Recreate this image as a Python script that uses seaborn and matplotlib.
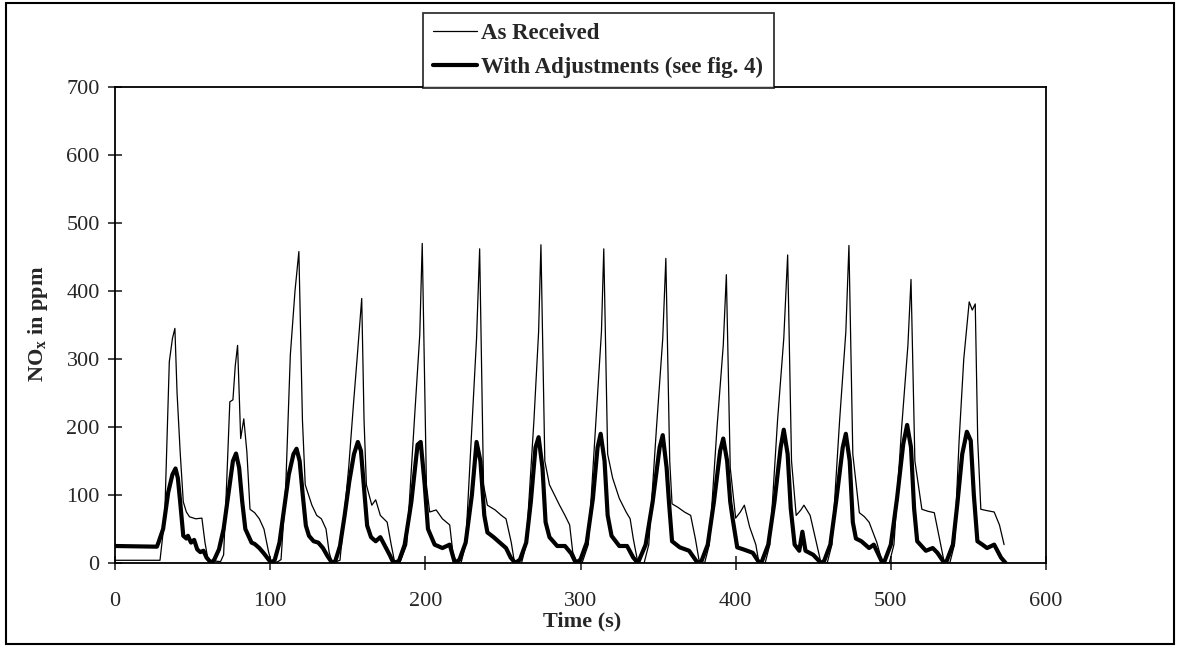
import numpy as np
import pandas as pd
import matplotlib
matplotlib.use("Agg")
import matplotlib.pyplot as plt
import seaborn as sns
from matplotlib.patches import Rectangle

# ---------------- data ----------------
t_received = [0, 29, 32, 35, 37, 38.6, 40, 42, 44, 46, 48, 52, 56, 58, 60, 68,
              70, 72, 74, 76, 77.5, 79, 81, 83, 85, 87, 90, 93, 96, 99, 101, 105,
              107, 110, 113, 116, 118.5, 120.8, 122.6, 126.9, 130, 133, 136, 138, 140, 145,
              150.6, 153.8, 156, 159, 160.5, 162, 165.5, 168, 171, 175.4, 178, 180, 183.5,
              188, 193, 196.4, 198, 200.7, 202.8, 207, 211, 215.7, 217.7, 220, 223,
              226, 230, 233, 235, 237.5, 240, 245, 249, 252, 255.4, 257.5, 262,
              265, 270, 273, 274.5, 277, 280, 286.5, 290, 293, 295, 298, 301,
              305, 310, 313.5, 315, 317.5, 320.7, 325, 329.4, 332, 334, 337, 341,
              344, 349, 353, 355, 357.5, 359, 362.7, 367, 371, 374, 376.7, 380,
              383, 388, 392, 394, 396.5, 400, 403, 405.6, 409, 413, 415, 419,
              422, 427, 431, 433.5, 436, 439, 442, 444, 448, 452, 455, 459,
              462, 467, 471, 473, 475.5, 479.7, 483, 486, 491, 494.6, 499,
              502, 507, 511, 513, 515.5, 520, 524, 528, 531, 534.5, 538,
              541, 544, 547, 550.5, 552.5, 554.4, 556, 558, 562, 566.6, 570, 573]
nox_received = [4, 4, 65, 296, 330, 345, 250, 163, 90, 75, 68, 65, 66, 30, 4, 2,
                12, 120, 237, 240, 290, 320, 183, 212, 163, 79, 74, 65, 50, 16, 0, 2,
                5, 110, 306, 400, 458, 210, 115, 85, 70, 65, 50, 16, 0, 4,
                140, 237, 300, 389, 210, 115, 85, 93, 70, 60, 27, 4, 0,
                27, 212, 335, 470, 115, 75, 78, 65, 56, 16, 0, 0,
                27, 200, 330, 462, 115, 85, 78, 70, 65, 30, 0, 0,
                27, 210, 340, 468, 150, 115, 85, 70, 56, 16, 0, 0,
                27, 210, 340, 462, 160, 125, 95, 75, 65, 36, 0, 0,
                27, 200, 330, 448, 150, 87, 82, 75, 70, 36, 0, 0,
                27, 200, 320, 424, 140, 66, 75, 85, 53, 27, 0, 0,
                27, 210, 330, 453, 150, 70, 78, 85, 70, 30, 0, 0,
                27, 210, 340, 467, 160, 74, 68, 60, 30, 0, 0,
                27, 200, 320, 417, 150, 79, 76, 74, 40, 0, 0,
                27, 180, 300, 384, 372, 381, 180, 79, 77, 75, 56, 27]

t_adjusted = [0, 27, 28, 31, 34.3, 37, 39, 40.5, 42, 44, 46, 47, 49, 51, 53, 55, 57, 59, 62,
              64, 67, 70, 73, 76, 78, 80, 82, 84, 86, 88, 90, 93, 96, 99, 101,
              103, 106, 109, 112, 115, 117, 119, 121, 123, 125, 128, 131, 134, 137, 140,
              142, 145, 148, 151, 154, 156.5, 158.5, 160.5, 162.5, 165, 168, 171, 174, 177, 179.5,
              183, 186.7, 191, 195, 197, 199.6, 201.7, 206, 211, 215.7, 219,
              222, 226, 230, 233, 235.5, 238, 240, 244, 248, 252, 255, 258,
              261, 265, 268, 271, 273, 275.5, 277.5, 280, 285, 290, 294, 297,
              300, 304, 308, 311, 313, 315.5, 317.5, 320, 325, 330, 334, 337,
              342, 346.5, 351, 353, 355.5, 357, 359, 364, 370, 374.6, 376,
              378, 382, 386, 390, 392, 394.5, 396.5, 398, 401, 405, 411, 415.3,
              417, 421, 425, 429, 431, 433.5, 435.5, 438, 441, 443, 445, 450, 455,
              457, 461, 465, 469, 471, 473.5, 475.5, 477.5, 481, 486, 489, 494.6,
              496, 500, 504, 508, 510.5, 513, 515, 517, 522.6, 527, 530, 534.5,
              536, 540, 543, 546, 549, 551.5, 553.5, 555.8, 559, 562, 566.6, 571, 574]
nox_adjusted = [25, 24, 30, 50, 104, 130, 139, 125, 90, 40, 36, 40, 30, 34, 20, 16, 18, 8, 0,
                5, 20, 50, 100, 150, 161, 140, 90, 50, 40, 30, 28, 22, 14, 5, 0,
                5, 30, 80, 130, 160, 168, 150, 100, 55, 40, 32, 30, 22, 10, 0,
                3, 25, 70, 120, 160, 178, 165, 110, 55, 38, 32, 38, 25, 12, 0,
                3, 27, 90, 174, 178, 115, 50, 27, 22, 27, 0,
                5, 30, 100, 178, 150, 70, 45, 38, 30, 22, 8, 0,
                5, 30, 90, 170, 185, 140, 60, 38, 25, 25, 14, 0,
                5, 30, 95, 170, 190, 150, 70, 40, 25, 25, 8, 0,
                27, 90, 170, 188, 140, 90, 32, 23, 18, 3, 0,
                3, 27, 90, 165, 183, 150, 90, 66, 23, 20, 15, 0,
                3, 27, 90, 170, 196, 160, 80, 27, 18, 46, 18, 12, 0,
                3, 27, 95, 170, 190, 150, 60, 36, 32, 22, 27, 0,
                3, 27, 95, 175, 203, 170, 80, 32, 18, 22, 15, 0,
                3, 27, 90, 160, 193, 180, 100, 32, 27, 22, 27, 8, 0]

x_ticks = [0, 100, 200, 300, 400, 500, 600]
y_ticks = [0, 100, 200, 300, 400, 500, 600, 700]
label_received = "As Received"
label_adjusted = "With Adjustments (see fig. 4)"
x_label = "Time (s)"
y_label = r"NO$_{\mathbf{x}}$ in ppm"

# ---------------- style ----------------
sns.set_style("white")
plt.rcParams['font.family'] = ['Liberation Serif', 'DejaVu Serif']
plt.rcParams['mathtext.fontset'] = 'custom'
plt.rcParams['mathtext.rm'] = 'Liberation Serif'
plt.rcParams['mathtext.bf'] = 'Liberation Serif:bold'
plt.rcParams['mathtext.it'] = 'Liberation Serif:italic'

W, H = 1179, 649
fig = plt.figure(figsize=(W / 100, H / 100), dpi=100)
ax = fig.add_axes([115 / W, 1 - 563 / H, (1046 - 115) / W, (563 - 87) / H])

df_r = pd.DataFrame({"t": t_received, "v": nox_received})
df_a = pd.DataFrame({"t": t_adjusted, "v": nox_adjusted})
sns.lineplot(data=df_r, x="t", y="v", ax=ax, color="black", linewidth=0.9,
             sort=False, estimator=None, label=label_received)
sns.lineplot(data=df_a, x="t", y="v", ax=ax, color="black", linewidth=3.0,
             sort=False, estimator=None, label=label_adjusted,
             solid_joinstyle="round", solid_capstyle="round")

ax.set_xlim(0, 600)
ax.set_ylim(0, 700)
ax.set_xticks(x_ticks)
ax.set_yticks(y_ticks)
ax.set_xticklabels([str(v) for v in x_ticks])
ax.set_yticklabels([str(v) for v in y_ticks])
ax.tick_params(axis='x', direction='inout', length=10, width=1.2, pad=16,
               labelsize=16, bottom=True, top=False)
ax.tick_params(axis='y', direction='inout', length=10, width=1.2, pad=6,
               labelsize=16, left=True, right=False)
for s in ax.spines.values():
    s.set_color("black")
    s.set_linewidth(1.3)

ax.set_xlabel("")
ax.set_ylabel("")
fig.text(582 / W, 1 - 621 / H, x_label, ha="center", va="center",
         fontsize=16, fontweight="bold")
fig.text(38 / W, 1 - 324 / H, y_label, ha="center", va="center",
         rotation=90, fontsize=16, fontweight="bold")

leg = ax.legend(loc="upper left", bbox_to_anchor=(423 / W, 1 - 13 / H),
                bbox_transform=fig.transFigure, frameon=True, fancybox=False,
                borderaxespad=0, borderpad=0.45, handlelength=1.9,
                handletextpad=0.2, labelspacing=0.55,
                prop={"weight": "bold", "size": 16.5})
leg.get_frame().set_edgecolor("black")
leg.get_frame().set_linewidth(1.3)

fig.patches.append(Rectangle((6 / W, 1 - 644 / H), (1174 - 6) / W, (644 - 3) / H,
                             transform=fig.transFigure, fill=False,
                             edgecolor="black", linewidth=1.5))

fig.savefig("out.png", dpi=100)
